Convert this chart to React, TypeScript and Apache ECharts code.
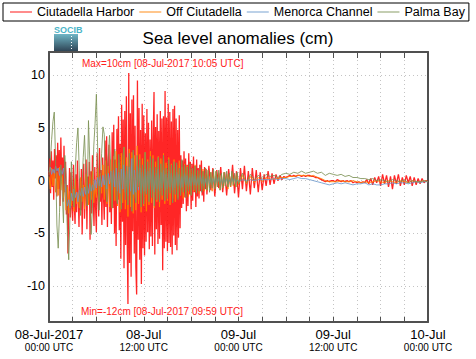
import React, { useEffect, useRef } from "react";
import * as echarts from "echarts";

const FONT = "'Liberation Sans', Arial, Helvetica, sans-serif";

const seriesNames = ["Ciutadella Harbor", "Off Ciutadella", "Menorca Channel", "Palma Bay"];
const seriesColors = ["#ff0000", "#ff8000", "#6b98cc", "#7d9255"];
const seriesWidths = [1.3, 1, 1, 1];

const xTickLabels = ["08-Jul-2017", "08-Jul", "09-Jul", "09-Jul", "10-Jul"];
const xTickSub = ["00:00 UTC", "12:00 UTC", "00:00 UTC", "12:00 UTC", "00:00 UTC"];
const yTicks = [-10, -5, 0, 5, 10];

const maxNote = "Max=10cm [08-Jul-2017 10:05 UTC]";
const minNote = "Min=-12cm [08-Jul-2017 09:59 UTC]";

// hours since 08-Jul-2017 00:00 UTC
const redStartA = 0, redStepA = 0.1; // every 6 min
const redA = [
  0.5, 2.1, -1.2, 2.8, -0.6, 1.9, -1.8, 3.0, 0.2, 2.4,
  -1.5, 3.6, -0.8, 2.9, -2.4, 4.1, 0.3, 2.2, -2.0, 3.3,
  -1.1, 1.8, -3.2, -0.4, -6.9, -2.1, 1.2, -3.5, 0.8, -2.6,
  -3.8, 1.5, -2.2, -4.1, 0.6, -3.0, 1.9, -1.4, -4.4, 0.2,
  -2.8, 1.1, -5.1, -0.5, 1.6, -3.6, -1.0, 2.0, -4.6, 0.4,
  -2.2, 1.8, -5.6, 0.9, -3.1, 2.4, -1.6, -4.3, 1.3, -2.5,
  -4.9, 2.6, -0.9, -3.4, 3.1, -2.0, 1.0, -4.2, 2.2, -1.4,
  -3.7, 3.8, -2.5, 4.2, -4.4, 1.5, 3.4, -3.0, 0.8, -4.1,
  4.6, -2.6, 5.3, -5.0, 2.0, -6.2, 4.9, -1.8, 6.1, -4.7,
  3.5, -7.4, 7.2, -3.9, 5.8, -8.3, 6.6, -6.1, 8.0, -5.2,
  -11.7, 10.2, -7.8, 6.4, -9.1, 7.7, -4.8, 8.1, -6.9, 5.2,
  -8.2, -10.8, 9.5, -5.6, 6.9, -7.5, 4.8, -9.8, 7.3, -6.4,
  6.2, -7.1, 4.5, -5.8, 6.8, -4.9, 5.5, -6.5, 3.9, -5.3,
  5.7, -6.2, 4.0, 8.4, -7.0, 5.1, -4.6, 6.3, -6.0, 4.7,
  -5.5, 6.6, -4.2, 5.9, -8.5, 6.1, -6.4, 8.5, -5.8, 6.0,
  -6.7, 7.3, -5.9, 6.5, -6.3, 5.6, -7.0, 6.8, -5.2, 7.1,
  -6.1, 5.9, -6.6, 4.8, -5.4, 6.2, -4.5, 2.4, -2.6, 1.9,
  -2.2, 2.8, -1.6, 2.1, -2.9, 1.5, -2.4, 2.6, -1.3, 1.8,
  -2.7, 1.6, -1.9, 2.3, -1.1, 1.4, -2.5, 2.0, -1.5, 1.2,
  -1.7, 1.5, -1.0, 1.9, -1.4, 0.9, -2.0, 1.3, -0.8, 1.1,
];
const redStartB = 20, redStepB = 0.25; // every 15 min
const redB = [
  -1.3, 1.4, -0.9, 1.2, -1.5, 1.0, -0.7, 1.3, -1.1, 0.8, -1.4, 1.1, -0.6, 1.5, -1.2, 0.9,
  -1.6, 1.2, -0.8, 1.4, -1.0, 0.9, -1.3, 1.2, -0.7, 1.0, -1.1, 0.8, -0.9, 0.6, -0.5, 0.9,
  -0.4, 0.7, -0.3, 0.6, 0.0, 0.5, 0.1, 0.4, 0.3, 0.4, 0.5, 0.4, 0.5, 0.4, 0.5, 0.5,
  0.4, 0.5, 0.4, 0.5, 0.5, 0.4, 0.4, 0.3, 0.3, 0.2, 0.1, 0.0, -0.1, 0.0, -0.1, 0.0,
  0.0, -0.1, 0.1, 0.0, -0.1, 0.0, -0.1, 0.0, -0.1, 0.0, -0.2, -0.1, -0.2, -0.1, -0.2, -0.1,
  -0.2, 0.1, -0.3, 0.2, -0.4, 0.3, -0.2, 0.4, -0.5, 0.6, -0.3, 0.5, -0.6, 0.4, -0.8, 0.5,
  -0.3, 0.6, -0.5, 0.3, -0.4, 0.5, -0.2, 0.4, -0.5, 0.3, -0.4, 0.2, -0.3, 0.2, -0.2, 0.0,
  -0.1,
];

const startA = 0, stepA = 1 / 6; // every 10 min
const startB = 24, stepB = 0.5; // every 30 min

const orangeA = [
  0.4, -0.8, 1.2, -0.5, 1.0, -1.1,
  0.8, -1.4, 1.3, -0.9, 0.5, -1.6,
  -0.3, -2.8, -0.6, -3.1, -1.0, -2.4,
  -0.5, -2.9, 0.2, -2.2, -1.1, -2.6,
  0.3, -2.0, -0.4, -2.7, 0.6, -1.5,
  -2.3, 0.5, -1.8, 0.9, -2.1, -0.2,
  -1.6, 1.2, -2.0, 0.7, -1.2, 1.5,
  -1.8, 1.9, -2.2, 1.4, -2.5, 2.0,
  -2.6, 2.3, -1.9, 2.8, -2.4, 1.7,
  -3.0, 2.6, -2.1, 3.2, -2.7, 2.2,
  -3.4, 3.0, -2.5, 2.7, -3.1, 2.4,
  -2.8, 3.3, -2.2, 2.5, -3.0, 2.1,
  -2.4, 2.7, -2.9, 2.0, -2.3, 2.8,
  -2.1, 2.4, -2.6, 1.8, -2.0, 2.3,
  -2.5, 2.1, -1.8, 2.6, -2.2, 1.7,
  -1.9, 2.2, -2.3, 1.6, -1.7, 2.0,
  -2.0, 1.5, -1.6, 1.9, -1.4, 1.3,
  -1.7, 1.6, -1.2, 1.4, -1.5, 1.1,
  -1.3, 1.2, -1.0, 1.5, -1.1, 0.9,
  -1.2, 1.0, -0.8, 1.1, -1.0, 0.7,
  -0.9, 1.0, -0.7, 0.8, -1.0, 0.6,
  -0.8, 0.9, -0.6, 0.7, -0.9, 0.5,
  -0.7, 0.8, -0.5, 0.6, -0.8, 0.6,
  -0.6, 0.7, -0.5, 0.5, -0.6, 0.6,
];
const orangeB = [
  -0.4, 0.5, -0.3, 0.4, -0.2, 0.3, -0.1, 0.3, 0.1, 0.2, 0.2, 0.3,
  0.3, 0.4, 0.4, 0.5, 0.5, 0.5, 0.4, 0.5, 0.3, 0.2, 0.0, -0.1,
  -0.1, -0.1, 0.0, -0.1, -0.1, 0.0, -0.1, -0.2, -0.1, -0.2, -0.1, 0.0,
  -0.1, -0.2, 0.0, -0.1, -0.2, 0.0, -0.1, -0.2, 0.0, -0.1, -0.1, 0.0,
  -0.1,
];

const blueA = [
  0.8, 1.3, 0.6, 1.1, 0.7, 1.4,
  0.9, 1.2, 0.5, 1.0, 0.6, 1.2,
  0.2, -1.5, -2.4, -1.8, -2.6, -1.2,
  -1.9, -0.8, -1.6, -1.1, -2.0, -0.9,
  -1.4, -0.7, -1.5, -0.6, -1.3, -0.5,
  -1.2, -0.3, -1.0, -0.4, -0.9, 0.1,
  -0.7, 0.3, -0.5, 0.4, -0.6, 0.5,
  -0.4, 0.6, -0.8, 0.7, -0.3, 0.9,
  -0.9, 1.0, -0.6, 1.2, -1.0, 0.8,
  -1.2, 1.1, -0.8, 1.5, -1.1, 0.9,
  -1.4, 1.3, -1.0, 2.1, -1.3, 1.0,
  -1.1, 1.4, -0.9, 1.2, -1.2, 0.8,
  -1.0, 1.1, -1.2, 0.9, -0.8, 1.2,
  -0.9, 1.0, -1.1, 0.7, -0.8, 1.1,
  -1.0, 0.8, -0.7, 1.0, -0.9, 0.6,
  -0.8, 0.9, -0.6, 0.7, -0.9, 0.5,
  -0.7, 0.8, -0.5, 0.6, -0.7, 0.4,
  -0.6, 0.7, -0.4, 0.5, -0.6, 0.3,
  -0.5, 0.6, -0.4, 0.5, -0.5, 0.3,
  -0.4, 0.5, -0.3, 0.4, -0.5, 0.2,
  -0.4, 0.4, -0.3, 0.3, -0.4, 0.2,
  -0.3, 0.4, -0.2, 0.3, -0.3, 0.2,
  -0.3, 0.3, -0.2, 0.2, -0.3, 0.1,
  -0.2, 0.3, -0.1, 0.2, -0.2, 0.1,
];
const blueB = [
  -0.1, 0.1, 0.0, 0.1, 0.0, 0.1, 0.1, 0.1, 0.1, 0.2, 0.1, 0.2,
  0.2, 0.1, 0.2, 0.3, 0.2, 0.2, 0.1, 0.0, -0.1, -0.2, -0.3, -0.4,
  -0.3, -0.2, -0.3, -0.2, -0.3, -0.4, -0.3, -0.3, -0.2, -0.4, -0.3, -0.4,
  -0.4, -0.3, -0.3, -0.2, -0.3, -0.2, -0.2, -0.3, -0.2, -0.1, -0.2, -0.1,
  -0.1,
];

const greenA = [
  0.5, 1.8, 3.9, 5.6, 6.5, 2.0,
  -4.2, -6.4, -3.0, 1.5, -1.0, -4.0,
  2.4, 0.5, -5.2, -7.5, -3.1, 1.8,
  -0.6, -2.5, 1.2, 3.6, 5.0, 1.0,
  -3.3, -1.0, 2.2, 4.3, 0.6, -2.4,
  5.7, 1.8, -5.1, -2.6, 3.2, 5.4,
  8.2, 3.0, -2.8, -0.5, 2.6, 5.1,
  4.4, -0.8, -2.0, 2.2, 4.3, 1.0,
  -2.6, 1.9, 3.0, -1.4, -2.2, 2.5,
  0.8, -2.7, 2.1, 3.2, -1.8, 1.4,
  -2.3, 2.6, 0.4, -2.9, 2.9, -1.2,
  -2.1, 2.4, -0.6, 2.0, -2.5, 1.5,
  -2.2, 2.7, -1.3, 1.8, -2.0, 2.3,
  -1.6, 2.1, -2.4, 1.3, -1.8, 2.2,
  -2.0, 1.6, -1.4, 2.4, -1.9, 1.2,
  -1.7, 2.0, -1.2, 1.5, -2.1, 1.8,
  -1.3, 1.7, -1.8, 1.2, -1.4, 2.0,
  -1.1, 1.5, -1.6, 1.3, -1.0, 1.6,
  -1.4, 1.2, -0.9, 1.4, -1.2, 1.0,
  -1.0, 1.3, -1.1, 0.9, -0.8, 1.2,
  -0.9, 1.0, -1.1, 0.8, -0.7, 1.1,
  -0.8, 0.9, -0.6, 1.0, -0.9, 0.7,
  -0.7, 0.8, -0.5, 0.9, -0.6, 0.7,
  -0.5, 0.9, -0.4, 0.7, -0.6, 0.8,
];
const greenB = [
  -0.3, 0.7, -0.2, 0.6, 0.1, 0.5, 0.2, 0.6, 0.4, 0.5, 0.3, 0.6,
  0.7, 0.6, 0.8, 0.7, 0.9, 0.7, 0.8, 0.9, 0.7, 0.8, 0.5, 0.7,
  0.6, 0.5, 0.6, 0.4, 0.5, 0.3, 0.3, 0.2, 0.2, 0.1, 0.2, 0.0,
  0.1, 0.0, -0.1, 0.1, 0.0, -0.1, 0.1, -0.2, 0.0, -0.1, -0.1, 0.0,
  -0.1,
];

function toPairs(start: number, step: number, vals: number[]) {
  return vals.map((v, i) => [start + i * step, v]);
}

const seriesData = [
  [...toPairs(redStartA, redStepA, redA), ...toPairs(redStartB, redStepB, redB)],
  [...toPairs(startA, stepA, orangeA), ...toPairs(startB, stepB, orangeB)],
  [...toPairs(startA, stepA, blueA), ...toPairs(startB, stepB, blueB)],
  [...toPairs(startA, stepA, greenA), ...toPairs(startB, stepB, greenB)],
];

export default function App() {
  const ref = useRef<HTMLDivElement>(null);
  useEffect(() => {
    if (!ref.current) return;
    const chart = echarts.init(ref.current, null, { renderer: "svg" });
    const frame = "#505050";
    const grid = "#c4c4c4";
    const option: any = {
      animation: false,
      backgroundColor: "#ffffff",
      textStyle: { fontFamily: FONT },
      title: {
        text: "Sea level anomalies (cm)",
        left: "center",
        top: 25,
        textStyle: { fontSize: 17, fontWeight: "normal", color: "#000", fontFamily: FONT },
      },
      legend: {
        left: 3,
        top: 3,
        padding: [1, 4, 1, 7],
        itemGap: 5,
        itemWidth: 22,
        itemHeight: 2,
        icon: "rect",
        borderColor: "#000",
        borderWidth: 1,
        textStyle: { fontSize: 12.5, color: "#000", fontFamily: FONT, lineHeight: 16 },
        data: seriesNames.map((n) => ({ name: n, itemStyle: { opacity: 0.45 } })),
      },
      grid: { left: 49, right: 48, top: 52, bottom: 37 },
      xAxis: [
        {
          type: "value",
          position: "bottom",
          min: 0,
          max: 48,
          interval: 12,
          axisLine: { onZero: false, lineStyle: { color: frame, width: 2 } },
          axisTick: { inside: true, length: 5, lineStyle: { color: frame } },
          minorTick: { show: true, splitNumber: 4, length: 5, lineStyle: { color: frame } },
          splitLine: { show: true, lineStyle: { color: grid, type: [1, 3] } },
          minorSplitLine: { show: true, lineStyle: { color: grid, type: [1, 3] } },
          axisLabel: {
            margin: 5,
            formatter: (v: number) => {
              const i = Math.round(v / 12);
              return `{a|${xTickLabels[i]}}\n{b|${xTickSub[i]}}`;
            },
            rich: {
              a: { fontSize: 13, color: "#000", fontFamily: FONT, lineHeight: 14 },
              b: { fontSize: 10, color: "#000", fontFamily: FONT, lineHeight: 13 },
            },
          },
        },
        {
          type: "value",
          position: "top",
          min: 0,
          max: 48,
          interval: 12,
          axisLine: { onZero: false, lineStyle: { color: frame, width: 2 } },
          axisTick: { inside: true, length: 6, lineStyle: { color: frame } },
          minorTick: { show: true, splitNumber: 4, length: 6, lineStyle: { color: frame } },
          splitLine: { show: false },
          axisLabel: { show: false },
        },
      ],
      yAxis: [
        {
          type: "value",
          position: "left",
          min: -13.4,
          max: 12.2,
          axisLine: { onZero: false, lineStyle: { color: frame, width: 2 } },
          axisTick: { show: false },
          splitLine: { show: true, lineStyle: { color: grid, type: [1, 3] } },
          axisLabel: {
            margin: 4,
            fontSize: 12.5,
            color: "#000",
            fontFamily: FONT,
            formatter: (v: number) => (yTicks.some((t) => Math.abs(t - v) < 1e-6) ? String(Math.round(v)) : ""),
          },
        },
        {
          type: "value",
          position: "right",
          min: -13.4,
          max: 12.2,
          axisLine: { onZero: false, lineStyle: { color: frame, width: 2 } },
          axisTick: { show: false },
          splitLine: { show: false },
          axisLabel: { show: false },
        },
      ],
      graphic: [
        {
          type: "text",
          left: 82,
          top: 58,
          style: { text: maxNote, fill: "#ff2020", fontSize: 10, fontFamily: FONT },
          z: 100,
        },
        {
          type: "text",
          left: 81,
          top: 306,
          style: { text: minNote, fill: "#ff2020", fontSize: 10, fontFamily: FONT },
          z: 100,
        },
        {
          type: "text",
          left: 54,
          top: 25,
          style: { text: "SOCIB", fill: "#4bb4c8", fontSize: 9, fontWeight: "bold", fontFamily: FONT },
          z: 100,
        },
        {
          type: "rect",
          shape: { x: 54, y: 34, width: 24, height: 17 },
          style: {
            fill: new echarts.graphic.LinearGradient(0, 0, 0, 1, [
              { offset: 0, color: "#6fb6c6" },
              { offset: 1, color: "#2f4556" },
            ]),
          },
          z: 100,
        },
        {
          type: "line",
          shape: { x1: 71.5, y1: 36, x2: 71.5, y2: 49 },
          style: { stroke: "#ffffff", lineWidth: 1, lineDash: [1, 2] },
          z: 101,
        },
      ],
      series: seriesNames.map((n, k) => ({
        name: n,
        type: "line",
        xAxisIndex: 0,
        yAxisIndex: 0,
        symbol: "none",
        showSymbol: false,
        color: seriesColors[k],
        lineStyle: { width: seriesWidths[k], color: seriesColors[k], opacity: 0.85 },
        data: seriesData[k],
        z: 2 + k,
      })),
    };
    chart.setOption(option);
    return () => chart.dispose();
  }, []);
  return (
    <div
      ref={ref}
      style={{ position: "absolute", left: 0, top: 0, width: 476, height: 359, background: "#fff" }}
    />
  );
}
